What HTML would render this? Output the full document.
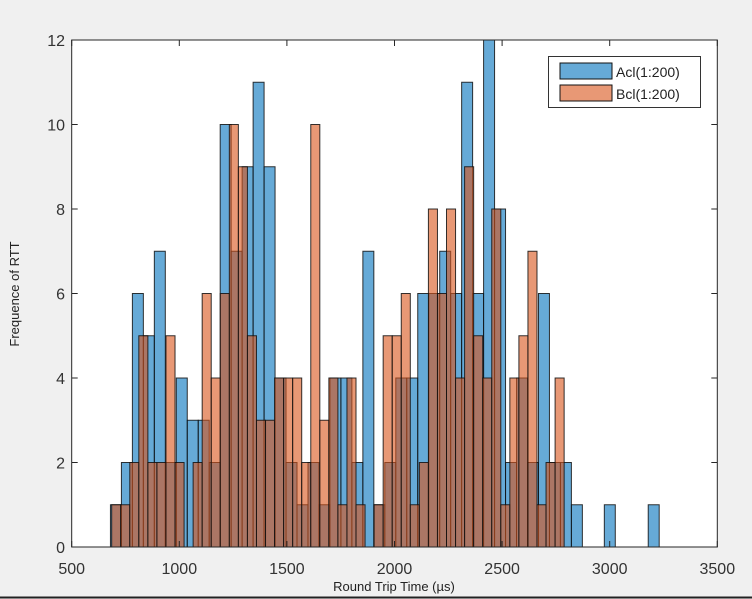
<!DOCTYPE html>
<html><head><meta charset="utf-8"><style>
html,body{margin:0;padding:0;background:#f0f0f0;}
svg{display:block;font-family:"Liberation Sans",sans-serif;}
</style></head><body>
<svg id="chart" width="752" height="599" viewBox="0 0 752 599" xmlns="http://www.w3.org/2000/svg">
<rect x="0" y="0" width="752" height="599" fill="#f0f0f0"/>
<line x1="0" y1="597.5" x2="752" y2="597.5" stroke="#222" stroke-width="2"/>
<rect x="71.7" y="40" width="645.6" height="507" fill="#fff"/>
<g id="bars"></g>
<g id="axes"></g>
<g>
<rect x="548.5" y="56.5" width="152" height="51" fill="#fff" stroke="#333" stroke-width="1"/>
<rect x="560" y="63" width="52" height="16" fill="rgb(0,114,189)" fill-opacity="0.6" stroke="#111"/>
<text x="616" y="77" font-size="14" fill="#222">Acl(1:200)</text>
<rect x="560" y="85" width="52" height="16" fill="rgb(217,83,25)" fill-opacity="0.6" stroke="#111"/>
<text x="616" y="99" font-size="14" fill="#222">Bcl(1:200)</text>
</g>
<text x="394" y="591" font-size="13" text-anchor="middle" fill="#222">Round Trip Time (µs)</text>
<text transform="translate(19,294) rotate(-90)" font-size="13" text-anchor="middle" fill="#222">Frequence of RTT</text>
</svg>
<script>
const aclStart = 680, aclWidth = 51;
const aclCounts = [1,2,6,5,7,2,4,3,3,2, 10,7,9,11,9,4,2,1,2,1, 4,4,2,7,1,2,4,4,6,6, 7,6,11,6,12,8,2,4,2,6, 2,2,1,0,0,1,0,0,0,1];
const bclStart = 685.8, bclWidth = 42.05;
const bclCounts = [1,1,2,5,2,2,5,2,0,2, 6,4,6,10,9,5,3,3,4,4, 4,2,10,3,4,1,4,1,0,1, 5,5,6,1,2,8,6,8,4,9, 5,4,8,1,4,5,7,1,2,4];
const xTicks = [500,1000,1500,2000,2500,3000,3500];
const yTicks = [0,2,4,6,8,10,12];

const NS = "http://www.w3.org/2000/svg";
const X0 = 71.7, X1 = 717.3, Y0 = 547, Y1 = 40;
function xs(v){ return X0 + (v - 500) / 3000 * (X1 - X0); }
function ys(c){ return Y0 - c / 12 * (Y0 - Y1); }
function mk(tag, attrs, parent){ const e = document.createElementNS(NS, tag); for (const k in attrs) e.setAttribute(k, attrs[k]); parent.appendChild(e); return e; }

const bars = document.getElementById('bars');
function drawSeries(start, width, counts, color, name){
  counts.forEach((c, i) => {
    if (c <= 0) return;
    const x = xs(start + i * width), x2 = xs(start + (i + 1) * width);
    const r = mk('rect', {x: x, y: ys(c), width: x2 - x, height: ys(0) - ys(c), fill: color, 'fill-opacity': 0.6, stroke: '#111', 'stroke-opacity': 0.85, 'stroke-width': 1}, bars);
    
    
  });
}
drawSeries(aclStart, aclWidth, aclCounts, 'rgb(0,114,189)', 'acl');
drawSeries(bclStart, bclWidth, bclCounts, 'rgb(217,83,25)', 'bcl');

const axes = document.getElementById('axes');
const frame = mk('rect', {x: X0, y: Y1, width: X1 - X0, height: Y0 - Y1, fill: 'none', stroke: '#262626', 'stroke-width': 1}, axes);


xTicks.forEach(v => {
  const x = xs(v);
  mk('line', {x1: x, y1: Y0, x2: x, y2: Y0 - 6, stroke: '#262626'}, axes);
  mk('line', {x1: x, y1: Y1, x2: x, y2: Y1 + 6, stroke: '#262626'}, axes);
  const t = mk('text', {x: x, y: 574, 'font-size': 16, 'text-anchor': 'middle', fill: '#333'}, axes);
  t.textContent = v;
  
  
});
yTicks.forEach(v => {
  const y = ys(v);
  mk('line', {x1: X0, y1: y, x2: X0 + 6, y2: y, stroke: '#262626'}, axes);
  mk('line', {x1: X1, y1: y, x2: X1 - 6, y2: y, stroke: '#262626'}, axes);
  const t = mk('text', {x: 65, y: y + 6, 'font-size': 16, 'text-anchor': 'end', fill: '#333'}, axes);
  t.textContent = v;
  
  
});
</script>
</body></html>
